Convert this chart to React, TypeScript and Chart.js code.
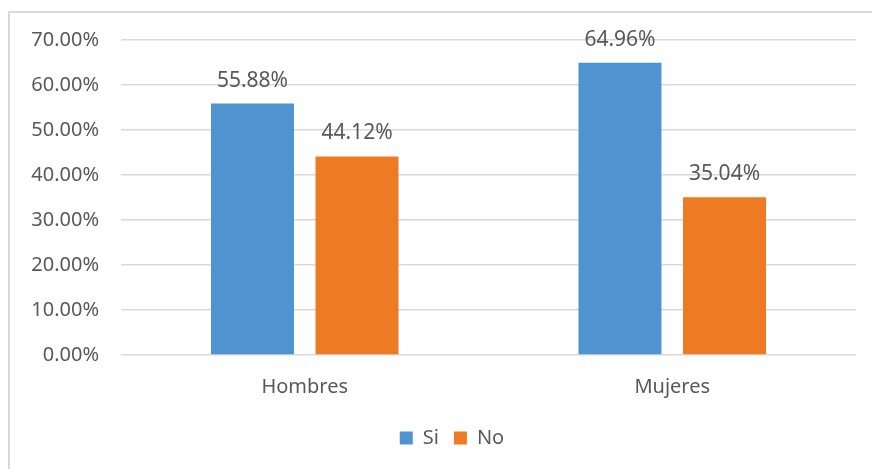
import React, { useEffect, useRef } from "react";
import { Chart, registerables } from "chart.js";

Chart.register(...registerables);

const categories = ["Hombres", "Mujeres"];
const siValues = [55.88, 64.96];
const noValues = [44.12, 35.04];
const seriesNames = ["Si", "No"];
const yTicks = [0, 10, 20, 30, 40, 50, 60, 70];

const BLUE = "#4F94D1";
const ORANGE = "#EE7B23";
const TEXT = "#595959";
const GRID = "#D9D9D9";
const FONT = "'Noto Sans', 'Open Sans', sans-serif";

const fmt = (v: number) => v.toFixed(2) + "%";

// Writes each bar's value above it.
const valueLabels = {
  id: "valueLabels",
  afterDatasetsDraw(chart: any) {
    const ctx = chart.ctx;
    ctx.save();
    ctx.font = `21px ${FONT}`;
    ctx.fillStyle = TEXT;
    ctx.textAlign = "center";
    ctx.textBaseline = "alphabetic";
    chart.data.datasets.forEach((ds: any, di: number) => {
      const meta = chart.getDatasetMeta(di);
      meta.data.forEach((bar: any, i: number) => {
        ctx.fillText(fmt(ds.data[i]), bar.x, bar.y - 17);
      });
    });
    ctx.restore();
  },
};

// Moves the legend a little to the right of the plot's centre line.
const legendShift = {
  id: "legendShift",
  afterLayout(chart: any) {
    const lg = chart.legend;
    if (lg) {
      lg.left += 24;
      lg.right += 24;
    }
  },
};

export default function App() {
  const canvasRef = useRef<HTMLCanvasElement | null>(null);

  useEffect(() => {
    if (!canvasRef.current) return;
    const chart = new Chart(canvasRef.current, {
      type: "bar",
      data: {
        labels: categories,
        datasets: [
          {
            label: seriesNames[0],
            data: siValues,
            backgroundColor: BLUE,
            borderWidth: 0,
            categoryPercentage: 0.569,
            barPercentage: 0.794,
          },
          {
            label: seriesNames[1],
            data: noValues,
            backgroundColor: ORANGE,
            borderWidth: 0,
            categoryPercentage: 0.569,
            barPercentage: 0.794,
          },
        ],
      },
      options: {
        responsive: false,
        maintainAspectRatio: false,
        animation: false,
        layout: { padding: { left: 0, top: 40, right: 16, bottom: 11 } },
        plugins: {
          tooltip: { enabled: false },
          legend: {
            position: "bottom",
            labels: {
              color: TEXT,
              font: { family: FONT, size: 20 },
              boxWidth: 13,
              boxHeight: 13,
              padding: 15,
            },
          },
        },
        scales: {
          x: {
            grid: { display: false },
            border: { display: false },
            ticks: {
              color: TEXT,
              font: { family: FONT, size: 20 },
              padding: 12,
            },
            afterFit(scale: any) {
              scale.height = 58;
            },
          },
          y: {
            min: 0,
            max: 70,
            afterBuildTicks(scale: any) {
              scale.ticks = yTicks.map((v) => ({ value: v }));
            },
            grid: { color: GRID, lineWidth: 1.5, drawTicks: false },
            border: { display: false },
            ticks: {
              color: TEXT,
              font: { family: FONT, size: 20 },
              padding: 22,
              callback: (v: any) => fmt(Number(v)),
            },
            afterFit(scale: any) {
              scale.width = 121;
            },
          },
        },
      },
      plugins: [valueLabels, legendShift],
    });
    return () => chart.destroy();
  }, []);

  return (
    <div
      style={{
        position: "fixed",
        left: 0,
        top: 0,
        width: 872,
        height: 469,
        background: "#fff",
        overflow: "hidden",
      }}
    >
      <div
        style={{
          position: "absolute",
          left: 8,
          top: 11,
          width: 900,
          height: 500,
          border: "2px solid #D9D9D9",
          boxSizing: "border-box",
        }}
      />
      <canvas
        ref={canvasRef}
        width={872}
        height={469}
        style={{ position: "absolute", left: 0, top: 0, width: 872, height: 469 }}
      />
    </div>
  );
}
